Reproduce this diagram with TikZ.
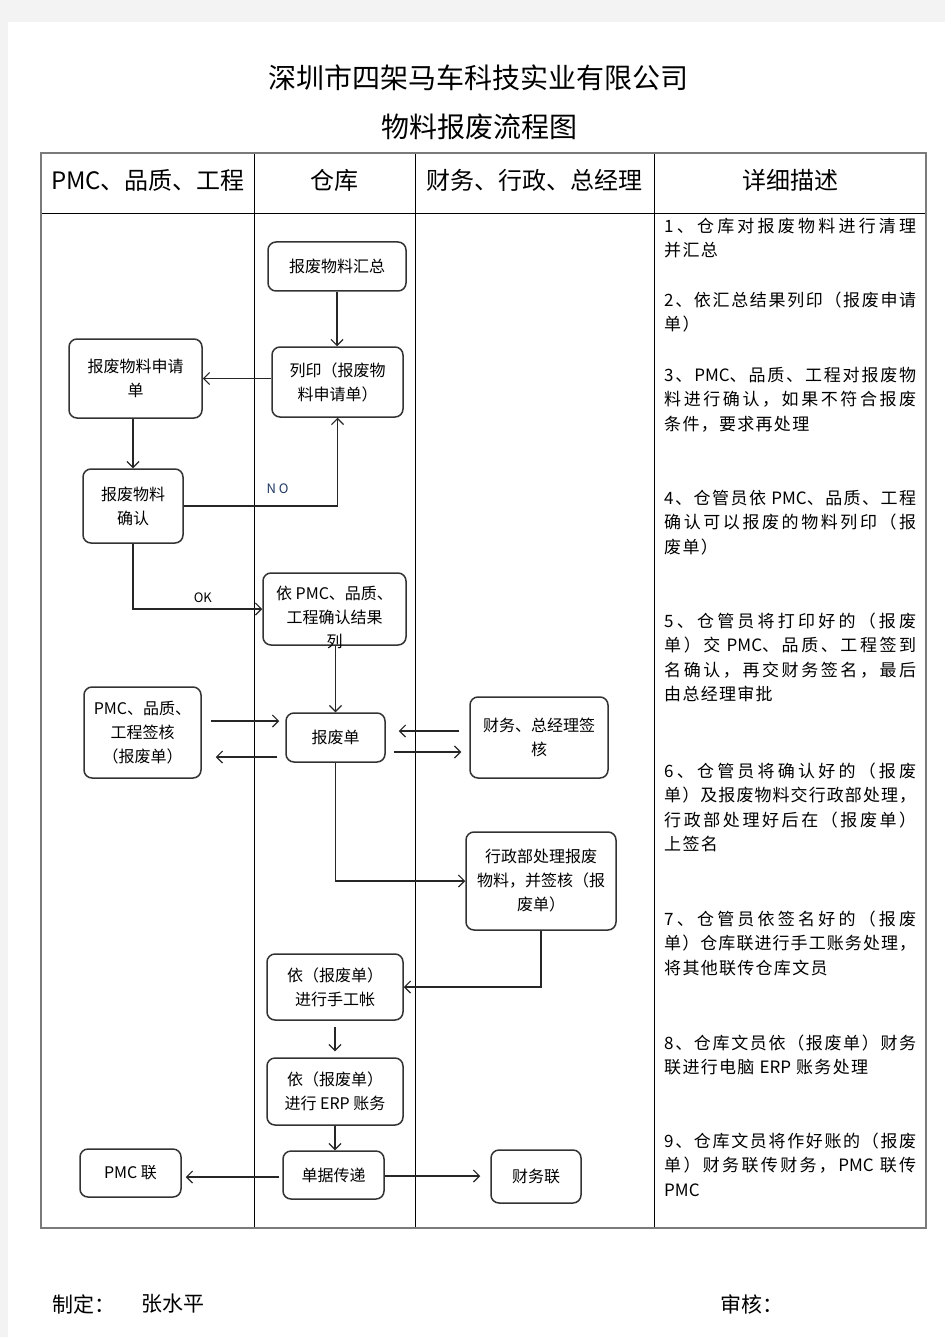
\documentclass[tikz,border=0pt]{standalone}
\usepackage{fontspec}
\setmainfont{Noto Sans CJK SC}
\usetikzlibrary{arrows.meta}
\definecolor{pagegray}{HTML}{F3F3F3}
\definecolor{boxline}{HTML}{333333}
\definecolor{tblout}{HTML}{7A7A7A}
\definecolor{nocol}{HTML}{203864}
% justified line: spread characters over 252pt
\def\jline#1{\hbox to 252pt{\jlA#1\relax}}
\def\jlA#1{#1\jlB}
\def\jlB#1{\ifx\relax#1\else\hfill#1\expandafter\jlB\fi}
% slightly letter-spaced line
\def\kline#1{\klA#1\relax}
\def\klA#1{#1\klB}
\def\klB#1{\ifx\relax#1\else\kern1.3pt\relax#1\expandafter\klB\fi}
\begin{document}
\begin{tikzpicture}[x=1pt,y=-1pt,
  box/.style={draw=boxline, line width=1.5pt, rounded corners=8pt, fill=white,
    align=center, font=\fontsize{16}{24}\selectfont, inner sep=0pt},
  boxtext/.style={align=center, font=\fontsize{16}{24}\selectfont, inner sep=0pt},
  arr/.style={draw=black!85, line width=1.2pt,
    -{Straight Barb[length=6pt,width=12pt,line width=1.2pt]}},
  desc/.style={anchor=north west, align=left, inner sep=0pt,
    font=\fontsize{17}{24.5}\selectfont},
  head/.style={font=\fontsize{24}{28}\selectfont, inner sep=0pt},
  title/.style={font=\fontsize{28}{32}\selectfont, inner sep=0pt},
  foot/.style={font=\fontsize{21}{24}\selectfont, inner sep=0pt, anchor=west},
  lbl/.style={font=\fontsize{13}{15}\selectfont, inner sep=0pt}]
\useasboundingbox (0,0) rectangle (945,1337);
\fill[pagegray] (0,0) rectangle (945,1337);
\fill[white] (8,22) rectangle (945,1337);

% titles
\node[title] (t1) at (478,78) {深圳市四架马车科技实业有限公司};
\node[title] (t2) at (479,127) {物料报废流程图};

% table
\draw[black, line width=0.8pt] (254,153) -- (254,1228);
\draw[black, line width=0.8pt] (415,153) -- (415,1228);
\draw[black, line width=0.8pt] (654,153) -- (654,1228);
\draw[black, line width=0.8pt] (41,213) -- (926,213);
\draw[tblout, line width=1.8pt] (41,153) rectangle (926,1228);

\node[head] (h1) at (148,180) {PMC、品质、工程};
\node[head] (h2) at (334,180) {仓库};
\node[head] (h3) at (534,180) {财务、行政、总经理};
\node[head] (h4) at (790,180) {详细描述};

% flow nodes
\node[box, minimum width=138pt, minimum height=49pt] (huizong) at (337,266.5) {报废物料汇总};
\node[box, minimum width=131pt, minimum height=70pt] (lieyin) at (337.5,382) {列印（报废物\\料申请单）};
\node[box, minimum width=133pt, minimum height=79pt] (shenqing) at (135.5,378.5) {报废物料申请\\单};
\node[box, minimum width=100pt, minimum height=74pt] (queren) at (133,506) {报废物料\\确认};
\node[box, minimum width=143pt, minimum height=72pt,
  label={[boxtext, yshift=-8pt]center:依 PMC、品质、\\工程确认结果\\列}] (yipmc) at (334.5,609) {};
\node[box, minimum width=117pt, minimum height=91pt] (pmcqh) at (142.5,732.5) {PMC、品质、\\工程签核\\（报废单）};
\node[box, minimum width=99pt, minimum height=49pt] (baofei) at (335.5,737.5) {报废单};
\node[box, minimum width=138pt, minimum height=81pt] (caiwu) at (539,737.5) {财务、总经理签\\核};
\node[box, minimum width=150pt, minimum height=98pt] (xingzheng) at (541,881) {行政部处理报废\\物料，并签核（报\\废单）};
\node[box, minimum width=136pt, minimum height=66pt] (shougong) at (335,987) {依（报废单）\\进行手工帐};
\node[box, minimum width=136pt, minimum height=67pt] (erp) at (335,1091.5) {依（报废单）\\进行 ERP 账务};
\node[box, minimum width=101pt, minimum height=48pt] (danju) at (333.5,1175) {单据传递};
\node[box, minimum width=101pt, minimum height=48pt] (pmclian) at (130.5,1173) {PMC 联};
\node[box, minimum width=90pt, minimum height=53pt] (caiwulian) at (536,1176.5) {财务联};

% connectors
\draw[arr] (huizong.south) -- (huizong.south |- lieyin.north);
\draw[arr] (shenqing.east -| lieyin.west) -- (shenqing.east);
\draw[arr] (queren.north |- shenqing.south) -- (queren.north);
\draw[arr] (queren.east) -- node[lbl, pos=0.61, yshift=17pt, text=nocol] {N O} (queren.east -| lieyin.south) -- (lieyin.south);
\draw[arr] (queren.south) -- (queren.south |- yipmc.west) -- node[lbl, pos=0.54, yshift=11pt] {OK} (yipmc.west);
\draw[arr] (baofei.north |- yipmc.south) -- (baofei.north);
\draw[arr, shorten <=9pt, shorten >=6pt] ([yshift=11.5pt]pmcqh.east) -- ([yshift=11.5pt]pmcqh.east -| baofei.west);
\draw[arr, shorten <=8pt, shorten >=14pt] ([yshift=-19.5pt]baofei.west) -- ([yshift=-19.5pt]baofei.west -| pmcqh.east);
\draw[arr, shorten <=10pt, shorten >=13pt] ([yshift=6.5pt]caiwu.west) -- ([yshift=6.5pt]caiwu.west -| baofei.east);
\draw[arr, shorten <=8pt, shorten >=8pt] ([yshift=-14.5pt]baofei.east) -- ([yshift=-14.5pt]baofei.east -| caiwu.west);
\draw[arr] (baofei.south) -- (baofei.south |- xingzheng.west) -- (xingzheng.west);
\draw[arr] (xingzheng.south) -- (xingzheng.south |- shougong.east) -- (shougong.east);
\draw[arr, shorten <=6pt, shorten >=6pt] (shougong.south) -- (erp.north);
\draw[arr] (erp.south) -- (erp.south |- danju.north);
\draw[arr, shorten <=3pt, shorten >=4pt] ([yshift=-2pt]danju.west) -- ([yshift=-2pt]danju.west -| pmclian.east);
\draw[arr, shorten >=10pt] ([yshift=-1pt]danju.east) -- ([yshift=-1pt]danju.east -| caiwulian.west);

% descriptions
\node[desc] (d1) at (664,217.5) {\jline{1、仓库对报废物料进行清理}\\\kline{并汇总}};
\node[desc] (d2) at (664,291.5) {\jline{2、依汇总结果列印（报废申请}\\\kline{单）}};
\node[desc] (d3) at (664,366.5) {\jline{3、{PMC、}品质、工程对报废物}\\\jline{料进行确认，如果不符合报废}\\\kline{条件，要求再处理}};
\node[desc] (d4) at (664,489.5) {\jline{4、仓管员依{ PMC、}品质、工程}\\\jline{确认可以报废的物料列印（报}\\\kline{废单）}};
\node[desc] (d5) at (664,612.5) {\jline{5、仓管员将打印好的（报废}\\\jline{单）交{ PMC、}品质、工程签到}\\\jline{名确认，再交财务签名，最后}\\\kline{由总经理审批}};
\node[desc] (d6) at (664,762.5) {\jline{6、仓管员将确认好的（报废}\\\jline{单）及报废物料交行政部处理，}\\\jline{行政部处理好后在（报废单）}\\\kline{上签名}};
\node[desc] (d7) at (664,910.5) {\jline{7、仓管员依签名好的（报废}\\\jline{单）仓库联进行手工账务处理，}\\\kline{将其他联传仓库文员}};
\node[desc] (d8) at (664,1034.5) {\jline{8、仓库文员依（报废单）财务}\\\kline{联进行电脑{ ERP }账务处理}};
\node[desc] (d9) at (664,1132.5) {\jline{9、仓库文员将作好账的（报废}\\\jline{单）财务联传财务，{PMC }联传}\\PMC};

% footer
\node[foot] (f1) at (52,1304) {制定：};
\node[foot] (f2) at (141,1304) {张水平};
\node[foot] (f3) at (720,1304) {审核：};
\end{tikzpicture}
\end{document}
